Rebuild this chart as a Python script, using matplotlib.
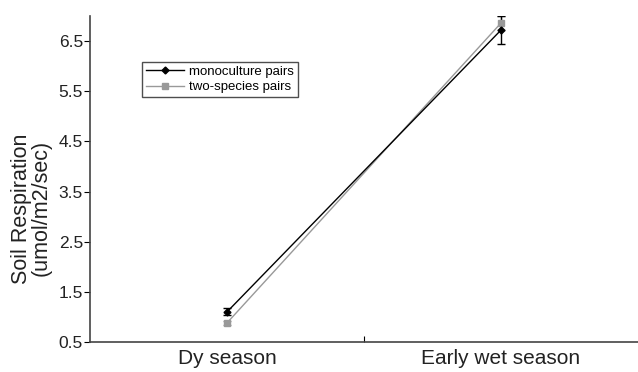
import numpy as np
import matplotlib.pyplot as plt
from matplotlib.lines import Line2D

plt.rcParams['font.family'] = ['Liberation Sans', 'DejaVu Sans']

seasons = ['Dy season', 'Early wet season']
mono_mean = [1.10, 6.72]
mono_err = [0.07, 0.28]
two_mean = [0.88, 6.86]
two_err = [0.04, 0.14]
y_ticks = [0.5, 1.5, 2.5, 3.5, 4.5, 5.5, 6.5]

x = np.array([0.5, 1.5])

fig = plt.figure(figsize=(6.38, 3.72), dpi=100)
ax = fig.add_axes([90 / 638, 30 / 372, 548 / 638, 326 / 372])

ax.errorbar(x, two_mean, yerr=two_err, color='#999999', marker='s',
            markersize=4, lw=1, capsize=3, elinewidth=1)
ax.errorbar(x, mono_mean, yerr=mono_err, color='black', marker='D',
            markersize=3.5, lw=1, capsize=3, elinewidth=1)

ax.set_xlim(0, 2)
ax.set_ylim(0.5, 7.0)
ax.set_yticks(y_ticks)
ax.set_yticklabels([f'{v:.1f}' for v in y_ticks], fontsize=12.5, color='#222222')
ax.set_xticks([1])
ax.set_xticklabels([''])
ax.set_xticks(x, minor=True)
ax.set_xticklabels(seasons, minor=True, fontsize=15, color='#222222')
ax.tick_params(axis='x', which='minor', length=0, pad=5)
ax.tick_params(axis='x', which='major', length=4, direction='in')
ax.tick_params(axis='y', length=4, pad=1, direction='out')

for s in ['top', 'right']:
    ax.spines[s].set_visible(False)
for s in ['left', 'bottom']:
    ax.spines[s].set_color('#444444')
    ax.spines[s].set_linewidth(1.2)

ax.set_ylabel('Soil Respiration\n(umol/m2/sec)', fontsize=15.5,
              color='#222222', linespacing=0.9)
ax.yaxis.set_label_coords(-0.07, 0.41)

handles = [
    Line2D([], [], color='black', marker='D', markersize=3.5, lw=1),
    Line2D([], [], color='#999999', marker='s', markersize=4, lw=1),
]
leg = ax.legend(handles, ['monoculture pairs', 'two-species pairs'],
                loc='upper left', bbox_to_anchor=(0.095, 0.86), fontsize=9.5,
                frameon=True, fancybox=False, edgecolor='#222222',
                borderpad=0.3, handlelength=2.9, handletextpad=0.35,
                labelspacing=0.25, borderaxespad=0)
leg.get_frame().set_linewidth(1)

fig.savefig('out.png', dpi=100)
